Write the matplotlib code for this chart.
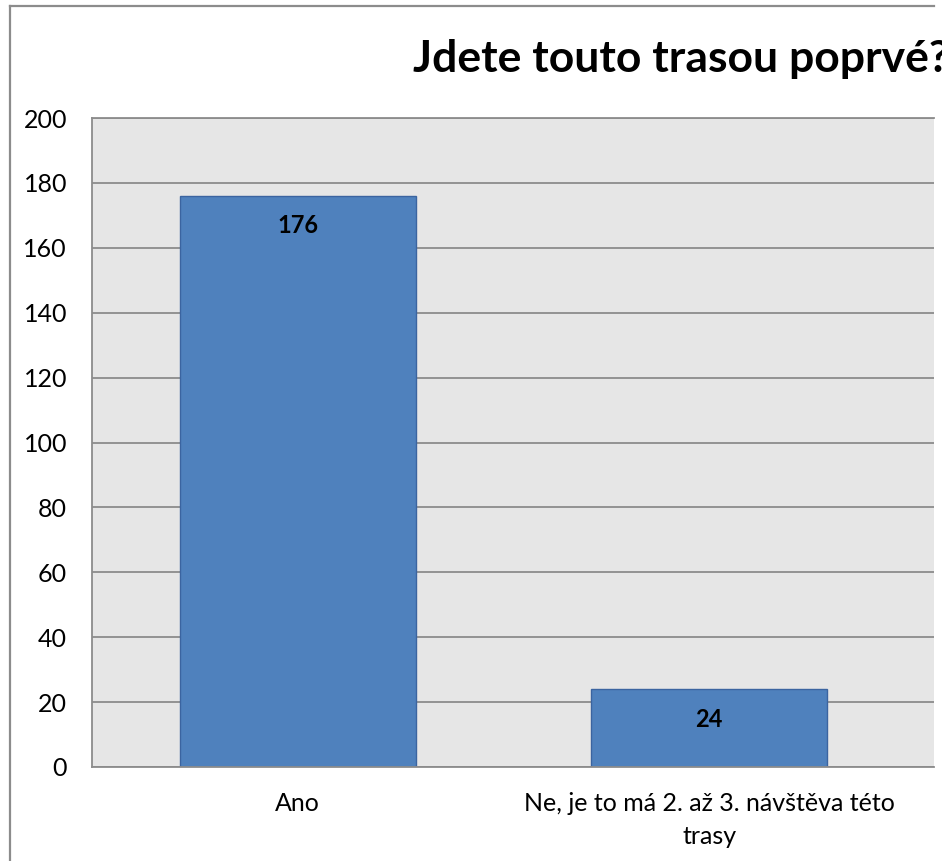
import matplotlib
matplotlib.use("Agg")
import matplotlib.pyplot as plt
from matplotlib.lines import Line2D

categories = ["Ano", "Ne, je to má 2. až 3. návštěva této\ntrasy"]
values = [176, 24]
yticks = [0, 20, 40, 60, 80, 100, 120, 140, 160, 180, 200]
title = "Jdete touto trasou poprvé?"

W, H = 942, 861
fig = plt.figure(figsize=(W / 100, H / 100), dpi=100)
plt.rcParams['font.family'] = ['Lato', 'DejaVu Sans']

# axes in pixel coords
left, right, top, bottom = 92, 934, 118, 767
ax = fig.add_axes([left / W, 1 - bottom / H, (right - left) / W, (bottom - top) / H])
cat_w = 411.5
ax.set_xlim(-0.5, -0.5 + (right - left) / cat_w)
ax.set_ylim(0, 200)
ax.set_facecolor("#E6E6E6")
ax.set_axisbelow(True)
ax.yaxis.grid(True, color="#8C8C8C", linewidth=1.3)
ax.set_yticks(yticks)
ax.set_xticks(range(len(categories)))
ax.set_xticklabels(categories, fontsize=18, linespacing=1.55, va="top")
ax.tick_params(axis="y", length=0, pad=18, labelsize=18)
ax.tick_params(axis="x", length=0, pad=18)
for s in ["left", "bottom", "top"]:
    ax.spines[s].set_color("#8C8C8C")
    ax.spines[s].set_linewidth(1.3)
ax.spines["right"].set_visible(False)

bars = ax.bar(range(len(values)), values, width=0.573, color="#4F81BD",
              edgecolor="#3B64A0", linewidth=1.0)
for i, v in enumerate(values):
    ax.annotate(str(v), (i, v), xytext=(0, -30), textcoords="offset pixels",
                ha="center", va="center", fontsize=17, fontweight="bold")

fig.text(413 / W, 1 - 72 / H, title, ha="left", va="baseline",
         fontsize=32, fontweight="bold")

# outer chart frame
fig.add_artist(Line2D([10 / W, 10 / W], [0, 1 - 6 / H], color="#8C8C8C", linewidth=1.6))
fig.add_artist(Line2D([10 / W, 934 / W], [1 - 6 / H, 1 - 6 / H], color="#8C8C8C", linewidth=1.6))

fig.savefig("out.png", dpi=100)
